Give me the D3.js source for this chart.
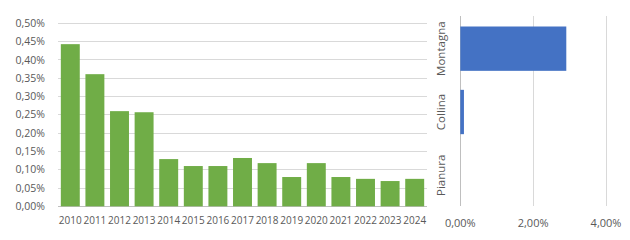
<!DOCTYPE html>
<html><head><meta charset="utf-8">
<script src="https://cdn.jsdelivr.net/npm/d3@7"></script>
<style>body{margin:0;background:#fff}svg{display:block}text{font-family:"Open Sans",sans-serif;fill:#595959}</style>
</head><body><svg id="c" width="630" height="240"></svg>
<script>
const years = ["2010","2011","2012","2013","2014","2015","2016","2017","2018","2019","2020","2021","2022","2023","2024"];
const yearValues = [0.443,0.361,0.260,0.257,0.129,0.110,0.110,0.132,0.118,0.080,0.118,0.080,0.075,0.069,0.075];
const yTicks = [0,0.05,0.10,0.15,0.20,0.25,0.30,0.35,0.40,0.45,0.50];
const zones = ["Montagna","Collina","Pianura"];
const zoneValues = [2.91,0.10,0];
const xTicks = [0,2,4];

const svg = d3.select("#c");
const fmt = (v,d)=> v.toFixed(d).replace(".",",")+"%";

// Left chart
const x = d3.scaleBand().domain(years).range([58,427]).paddingInner(0.23).paddingOuter(0.115);
const y = d3.scaleLinear().domain([0,0.5]).range([206.3,23.3]);
const g1 = svg.append("g");
g1.selectAll("line.grid").data(yTicks).join("line")
  .attr("x1",58).attr("x2",427).attr("y1",d=>y(d)).attr("y2",d=>y(d))
  .attr("stroke",d=>d===0?"#bfbfbf":"#d9d9d9").attr("stroke-width",1).attr("shape-rendering","crispEdges");
g1.selectAll("rect").data(years).join("rect")
  .attr("x",d=>x(d)).attr("width",x.bandwidth())
  .attr("y",(d,i)=>y(yearValues[i])).attr("height",(d,i)=>y(0)-y(yearValues[i]))
  .attr("fill","#70AD47");
g1.selectAll("text.yt").data(yTicks).join("text")
  .attr("x",45).attr("y",d=>y(d)).attr("dy","0.35em").attr("text-anchor","end")
  .attr("font-size","10.5px").text(d=>fmt(d,2));
g1.selectAll("text.xt").data(years).join("text")
  .attr("x",d=>x(d)+x.bandwidth()/2).attr("y",220).attr("dy","0.35em").attr("text-anchor","middle")
  .attr("font-size","10px").text(d=>d);

// Right chart
const x2 = d3.scaleLinear().domain([0,4]).range([460.3,606]);
const y2 = d3.scaleBand().domain(zones).range([16,206]).paddingInner(0.3).paddingOuter(0.15);
const g2 = svg.append("g");
g2.selectAll("line").data(xTicks).join("line")
  .attr("x1",d=>x2(d)).attr("x2",d=>x2(d)).attr("y1",16).attr("y2",206)
  .attr("stroke",d=>d===0?"#bfbfbf":"#d9d9d9").attr("shape-rendering","crispEdges");
g2.selectAll("rect").data(zones).join("rect")
  .attr("x",x2(0)).attr("y",d=>y2(d)+1).attr("height",y2.bandwidth())
  .attr("width",(d,i)=>x2(zoneValues[i])-x2(0)).attr("fill","#4472C4");
g2.selectAll("text.xt").data(xTicks).join("text")
  .attr("x",d=>x2(d)).attr("y",223).attr("dy","0.35em").attr("text-anchor","middle")
  .attr("font-size","11px").text(d=>fmt(d,2));
g2.selectAll("text.cat").data(zones).join("text")
  .attr("transform",d=>`translate(441,${y2(d)+y2.bandwidth()/2+1}) rotate(-90)`)
  .attr("dy","0.35em").attr("text-anchor","middle").attr("font-size","11.5px").text(d=>d);
</script></body></html>
